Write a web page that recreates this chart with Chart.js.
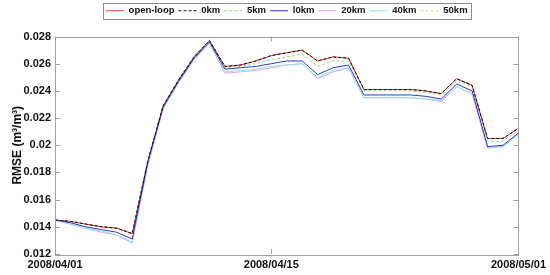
<!DOCTYPE html>
<html>
<head>
<meta charset="utf-8">
<script src="https://cdn.jsdelivr.net/npm/chart.js@4.4.1/dist/chart.umd.min.js"></script>
<style>
  html, body { margin: 0; padding: 0; background: #fff; }
  #wrap { width: 550px; height: 275px; }
</style>
</head>
<body>
<div id="wrap"><canvas id="rmse-chart"></canvas></div>
<script>
// dates, one per day
const days = [
    '2008/04/01','2008/04/02','2008/04/03','2008/04/04','2008/04/05','2008/04/06','2008/04/07','2008/04/08',
    '2008/04/09','2008/04/10','2008/04/11','2008/04/12','2008/04/13','2008/04/14','2008/04/15','2008/04/16',
    '2008/04/17','2008/04/18','2008/04/19','2008/04/20','2008/04/21','2008/04/22','2008/04/23','2008/04/24',
    '2008/04/25','2008/04/26','2008/04/27','2008/04/28','2008/04/29','2008/04/30','2008/05/01'
];
const shownDates = ['2008/04/01', '2008/04/15', '2008/05/01'];
const yTicks = [0.012, 0.014, 0.016, 0.018, 0.02, 0.022, 0.024, 0.026, 0.028];

const openLoop = [0.0145,0.0144,0.0142,0.0140,0.0139,0.0135,0.0188,0.0229,0.0248,0.0265,0.0277,0.0258,0.0259,0.0262,0.0266,0.0268,
                  0.0270,0.0262,0.0265,0.0264,0.0241,0.0241,0.0241,0.0241,0.0240,0.0238,0.0249,0.0244,0.0205,0.0205,0.02125];
const km0 = [0.0145,0.0144,0.0142,0.0140,0.0139,0.0135,0.0188,0.0229,0.0248,0.0265,0.0277,0.0258,0.0259,0.0262,0.0266,0.0268,
             0.0270,0.0262,0.0265,0.0264,0.0241,0.0241,0.0241,0.0241,0.0240,0.0238,0.0249,0.0244,0.0205,0.0205,0.02125];
const km5 = [0.0145,0.0144,0.0142,0.0140,0.0139,0.0135,0.0188,0.0229,0.0248,0.0265,0.0277,0.0257,0.0258,0.0260,0.0263,0.0265,
             0.0267,0.0258,0.0262,0.0262,0.0240,0.0240,0.0240,0.0240,0.0239,0.0237,0.0247,0.0243,0.0203,0.0203,0.0211];
const km10 = [0.0145,0.0143,0.0140,0.0138,0.0136,0.0131,0.0187,0.0228,0.0247,0.0264,0.0276,0.0256,0.0257,0.0258,0.0260,0.0262,
              0.0262,0.0252,0.0257,0.0259,0.0237,0.0237,0.0237,0.0237,0.0236,0.0234,0.0245,0.0240,0.0199,0.0200,0.0209];
const km20 = [0.0145,0.0142,0.0139,0.0136,0.0134,0.0128,0.0185,0.0227,0.0246,0.0263,0.0275,0.0253,0.0254,0.0255,0.0257,0.0259,
              0.0260,0.0249,0.0254,0.0257,0.0235,0.0235,0.0235,0.0235,0.0234,0.0232,0.0243,0.0238,0.0198,0.0199,0.0208];
const km40 = [0.0145,0.0142,0.0139,0.0137,0.0134,0.0129,0.0185,0.0227,0.0246,0.0263,0.0275,0.0254,0.0255,0.0256,0.0258,0.0259,
              0.0260,0.0250,0.0255,0.0257,0.0235,0.0235,0.0235,0.0235,0.0234,0.0233,0.0243,0.0238,0.0198,0.0199,0.0208];
const km50 = [0.0145,0.0144,0.0142,0.0140,0.0139,0.0135,0.0188,0.0229,0.0248,0.0265,0.0277,0.0258,0.0259,0.0262,0.0266,0.0268,
              0.0270,0.0262,0.0265,0.0264,0.0241,0.0241,0.0241,0.0241,0.0240,0.0238,0.0249,0.0244,0.0205,0.0205,0.02125];

const axisGrey = '#a0a0a0';

function line(label, values, color, dash, order) {
    return {
        label: label,
        data: values,
        borderColor: color,
        backgroundColor: color,
        borderWidth: 1,
        borderDash: dash,
        pointRadius: 0,
        tension: 0,
        fill: false,
        order: order
    };
}

// extra room under the legend (plot top sits lower in the original)
const legendGap = {
    id: 'legendGap',
    beforeInit(chart) {
        const fitLegend = chart.legend.fit;
        chart.legend.fit = function () {
            fitLegend.bind(chart.legend)();
            this.height += 11;
        };
    }
};

// box around the plot + inward ticks like matlab, and a frame around the legend
const matlabBox = {
    id: 'matlabBox',
    afterDraw(chart) {
        const ctx = chart.ctx;
        const a = chart.chartArea;
        const xs = chart.scales.x, ys = chart.scales.y;
        ctx.save();
        ctx.strokeStyle = axisGrey;
        ctx.lineWidth = 1;
        ctx.setLineDash([]);
        ctx.strokeRect(Math.round(a.left) + 0.5, Math.round(a.top) + 0.5,
            Math.round(a.right - a.left), Math.round(a.bottom - a.top));
        ctx.beginPath();
        yTicks.forEach(v => {
            const y = Math.round(ys.getPixelForValue(v)) + 0.5;
            ctx.moveTo(a.left, y); ctx.lineTo(a.left + 5, y);
            ctx.moveTo(a.right, y); ctx.lineTo(a.right - 5, y);
        });
        shownDates.forEach(d => {
            const x = Math.round(xs.getPixelForValue(days.indexOf(d))) + 0.5;
            ctx.moveTo(x, a.bottom); ctx.lineTo(x, a.bottom - 5);
            ctx.moveTo(x, a.top); ctx.lineTo(x, a.top + 5);
        });
        ctx.stroke();

        const boxes = chart.legend.legendHitBoxes;
        if (boxes && boxes.length) {
            const l = boxes[0].left - 3;
            const last = boxes[boxes.length - 1];
            const r = last.left + last.width + 3;
            const t = boxes[0].top - 3;
            const b = boxes[0].top + boxes[0].height + 3;
            ctx.strokeStyle = '#8c8c8c';
            ctx.strokeRect(Math.round(l) + 0.5, Math.round(t) + 0.5, Math.round(r - l), Math.round(b - t));
        }
        ctx.restore();
    }
};

const data = {
    labels: days,
    datasets: [
        line('open-loop', openLoop, '#e8383a', [], 2),
        line('0km', km0, '#111111', [3, 2], 0),
        line('5km', km5, '#92d892', [3, 2], 3),
        line('l0km', km10, '#3434c4', [], 1),
        line('20km', km20, '#dca6e6', [], 5),
        line('40km', km40, '#8fe4f4', [], 4),
        line('50km', km50, '#e6cf8a', [3, 2], 6)
    ]
};

const config = {
    type: 'line',
    data: data,
    options: {
        responsive: true,
        maintainAspectRatio: false,
        animation: false,
        layout: { padding: { left: 0, right: 30, top: 2, bottom: 0 } },
        plugins: {
            tooltip: { enabled: false },
            legend: {
                position: 'top',
                fullSize: false,
                labels: {
                    usePointStyle: true,
                    pointStyle: 'line',
                    pointStyleWidth: 18,
                    boxHeight: 8,
                    padding: 4,
                    color: '#111',
                    font: { family: 'Liberation Sans, Arial, sans-serif', size: 9.5, weight: 'bold' },
                    sort: (a, b) => a.datasetIndex - b.datasetIndex,
                    generateLabels: function (chart) {
                        const items = Chart.defaults.plugins.legend.labels.generateLabels(chart);
                        items.forEach(it => {
                            it.lineDash = chart.data.datasets[it.datasetIndex].borderDash;
                        });
                        return items;
                    }
                }
            }
        },
        scales: {
            x: {
                grid: { display: false, drawTicks: false },
                border: { display: false },
                ticks: {
                    autoSkip: false,
                    maxRotation: 0,
                    padding: 4,
                    color: '#111',
                    font: { family: 'Liberation Sans, Arial, sans-serif', size: 11, weight: 'bold' },
                    callback: function (v, i) {
                        const lab = days[i];
                        return shownDates.includes(lab) ? lab : '';
                    }
                },
                afterFit: s => { s.height = 21; }
            },
            y: {
                min: 0.012,
                max: 0.028,
                grid: { display: false, drawTicks: false },
                border: { display: false },
                ticks: {
                    stepSize: 0.002,
                    padding: 4,
                    color: '#111',
                    font: { family: 'Liberation Sans, Arial, sans-serif', size: 11, weight: 'bold' },
                    callback: v => String(+v.toFixed(3))
                },
                title: {
                    display: true,
                    text: 'RMSE (m³/m³)',
                    color: '#111',
                    padding: { top: 10, bottom: 0 },
                    font: { family: 'Liberation Sans, Arial, sans-serif', size: 12, weight: 'bold' }
                },
                afterFit: s => { s.width = 55; }
            }
        }
    },
    plugins: [legendGap, matlabBox]
};

var myChart = new Chart(document.getElementById('rmse-chart'), config);
</script>
</body>
</html>
